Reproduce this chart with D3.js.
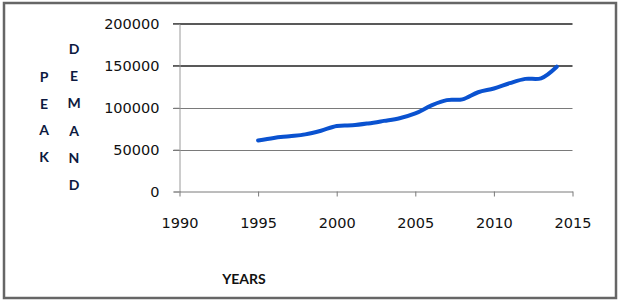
<!DOCTYPE html>
<html><head><meta charset="utf-8">
<script src="https://cdn.jsdelivr.net/npm/d3@7"></script>
<style>html,body{margin:0;padding:0;background:#fff;}svg{display:block;}</style>
</head><body>
<script>
const years = [1995,1996,1997,1998,1999,2000,2001,2002,2003,2004,2005,2006,2007,2008,2009,2010,2011,2012,2013,2014];
const peakDemand = [61000,64000,66000,68200,72600,78300,79000,81300,84300,87500,93200,102500,109100,110000,118500,123000,129300,134500,135200,149000];
const xTicks = [1990,1995,2000,2005,2010,2015];
const yTicks = [0,50000,100000,150000,200000];
const yTitleLeft = ["P","E","A","K"];
const yTitleRight = ["D","E","M","A","N","D"];
const xTitle = "YEARS";

const W = 623, H = 304;
const svg = d3.select("body").append("svg").attr("width", W).attr("height", H);
svg.append("rect").attr("width", W).attr("height", H).attr("fill", "#fff");
svg.append("rect").attr("x", 4).attr("y", 3).attr("width", 612).attr("height", 295)
  .attr("fill", "none").attr("stroke", "#666").attr("stroke-width", 2.5);

const x = d3.scaleLinear().domain([1990, 2015]).range([179.5, 572.5]);
const y = d3.scaleLinear().domain([0, 200000]).range([191.5, 24]);

// gridlines
const grid = svg.append("g");
yTicks.forEach(t => {
  if (t === 0) return;
  const dark = t >= 150000;
  grid.append("line").attr("x1", 173).attr("x2", 572.5)
    .attr("y1", Math.round(y(t)) + (dark ? 0 : 0.5)).attr("y2", Math.round(y(t)) + (dark ? 0 : 0.5))
    .attr("stroke", dark ? "#595959" : "#7a7a7a").attr("stroke-width", dark ? 2 : 1);
});

// y axis
const yAxis = svg.append("g").attr("transform", `translate(${x(1990)},0)`)
  .call(d3.axisLeft(y).tickValues(yTicks).tickSize(6).tickPadding(14).tickFormat(d3.format("d")));
yAxis.select(".domain").attr("stroke", "#9a9a9a");
yAxis.selectAll(".tick line").attr("stroke", "#7a7a7a");
yAxis.selectAll("text").attr("font-family", "DejaVu Sans").attr("font-size", 14.5).attr("fill", "#111");

// x axis
const xAxis = svg.append("g").attr("transform", `translate(0,${y(0)})`)
  .call(d3.axisBottom(x).tickValues(xTicks).tickSize(5).tickSizeOuter(0).tickPadding(21).tickFormat(d3.format("d")));
xAxis.select(".domain").attr("stroke", "#7a7a7a");
xAxis.selectAll(".tick line").attr("stroke", "#7a7a7a");
xAxis.selectAll("text").attr("font-family", "DejaVu Sans").attr("font-size", 14.5).attr("fill", "#111");

// line
const line = d3.line().x((d, i) => x(years[i])).y(d => y(d)).curve(d3.curveCatmullRom.alpha(0.5));
svg.append("path").datum(peakDemand).attr("d", line)
  .attr("fill", "none").attr("stroke", "#0a52d0").attr("stroke-width", 4).attr("stroke-linecap", "round");

// axis titles
svg.append("text").attr("x", 244).attr("y", 284).attr("text-anchor", "middle")
  .attr("font-family", "Lato").attr("font-weight", "bold").attr("font-size", 14).attr("fill", "#111").text(xTitle);
yTitleLeft.forEach((c, i) => {
  svg.append("text").attr("x", 44).attr("y", 82 + i * 26.7).attr("text-anchor", "middle")
    .attr("font-family", "Lato").attr("font-weight", "bold").attr("font-size", 14).attr("fill", "#0d1a40").text(c);
});
yTitleRight.forEach((c, i) => {
  svg.append("text").attr("x", 74).attr("y", 54 + i * 27.2).attr("text-anchor", "middle")
    .attr("font-family", "Lato").attr("font-weight", "bold").attr("font-size", 14).attr("fill", "#0d1a40").text(c);
});
</script>
</body></html>
